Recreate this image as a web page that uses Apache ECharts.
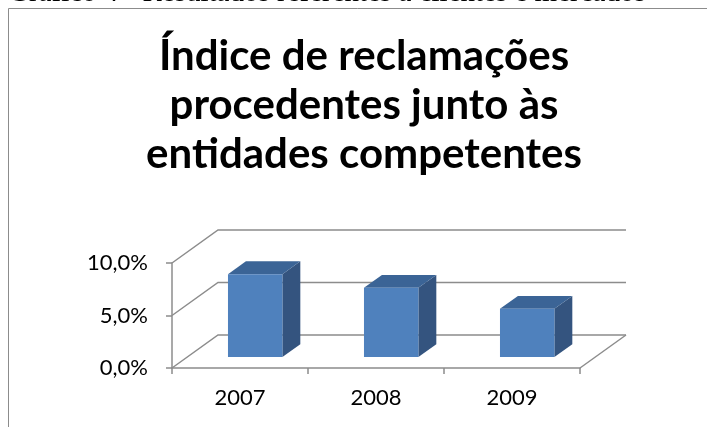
<!DOCTYPE html>
<html>
<head>
<meta charset="utf-8">
<script src="https://cdn.jsdelivr.net/npm/echarts@6/dist/echarts.min.js"></script>
<style>
html,body{margin:0;padding:0;background:#fff;}
#chart{width:707px;height:427px;}
</style>
</head>
<body>
<div id="chart"></div>
<script>
// ---- data ----
const categories = ['2007', '2008', '2009'];
const values = [7.9, 6.6, 4.6];
const yTicks = [0, 5, 10];
const titleText = 'Índice de reclamações\nprocedentes junto às\nentidades competentes';
const captionText = 'Gráfico 4 - Resultados referentes a clientes e mercados';

// ---- style constants ----
const DX = 46, DY = -33;          // 3D depth offset of the walls
const F1 = 0.33, F2 = 0.39;       // bar front position / bar depth (fractions of depth)
const GRID_COLOR = '#8c8c8c';
const FRONT = '#4f81bd', TOP = '#3b6496', SIDE = '#34547f';

const chart = echarts.init(document.getElementById('chart'));

function fmt(v) { return v.toFixed(1).replace('.', ',') + '%'; }

chart.setOption({
  animation: false,
  backgroundColor: '#fff',
  title: {
    text: titleText,
    left: 359,
    textAlign: 'center',
    top: 27,
    textStyle: { fontFamily: 'Lato', fontWeight: 'bold', fontSize: 42, lineHeight: 49, color: '#000' }
  },
  graphic: [
    { type: 'text', z: 9, x: 8, y: 8, style: { text: captionText, font: '29px "Liberation Serif"', fill: '#000', verticalAlign: 'bottom' } },
    { type: 'polyline', z: 10, shape: { points: [[8.5, 427], [8.5, 8.5], [707, 8.5]] }, style: { stroke: '#8c8c8c', lineWidth: 1, fill: null } }
  ],
  grid: { left: 172, top: 263, width: 408, height: 105 },
  xAxis: {
    type: 'category',
    data: categories,
    axisLine: { lineStyle: { color: GRID_COLOR, width: 1.5 } },
    axisTick: { show: true, length: 6, lineStyle: { color: GRID_COLOR, width: 1.5 } },
    axisLabel: { fontFamily: 'Lato', fontSize: 22, color: '#000', margin: 19 },
    splitLine: { show: false }
  },
  yAxis: {
    type: 'value',
    min: 0, max: 10, interval: 5,
    axisLine: { show: true, lineStyle: { color: GRID_COLOR, width: 1.5 } },
    axisTick: { show: true, length: 6, lineStyle: { color: GRID_COLOR, width: 1.5 } },
    axisLabel: { fontFamily: 'Lato', fontSize: 22, color: '#000', margin: 24, formatter: fmt },
    splitLine: { show: false }
  },
  series: [
    {
      type: 'custom',
      clip: false,
      silent: true,
      z: 1,
      data: yTicks.map(v => [0, v]),
      renderItem: function (params, api) {
        const cs = params.coordSys;
        const y = api.coord([0, api.value(1)])[1];
        const l = cs.x, r = cs.x + cs.width;
        const children = [{
          type: 'polyline',
          shape: { points: [[l, y], [l + DX, y + DY], [r + DX, y + DY]] },
          style: { stroke: GRID_COLOR, lineWidth: 1.5, fill: null }
        }];
        if (api.value(1) === 0) {
          children.push({
            type: 'line',
            shape: { x1: r, y1: y, x2: r + DX, y2: y + DY },
            style: { stroke: GRID_COLOR, lineWidth: 1.5 }
          });
        }
        return { type: 'group', children: children };
      }
    },
    {
      type: 'custom',
      clip: false,
      z: 2,
      data: values.map((v, i) => [i, v]),
      renderItem: function (params, api) {
        const p = api.coord([api.value(0), api.value(1)]);
        const y0 = api.coord([api.value(0), 0])[1];
        const bw = api.size([1, 0])[0] * 0.4;
        const ox = DX * F1, oy = DY * F1;
        const dx = DX * F2, dy = DY * F2;
        const x0 = p[0] - bw / 2 + ox, x1 = p[0] + bw / 2 + ox;
        const top = p[1] + oy, bot = y0 + oy;
        return {
          type: 'group',
          children: [
            { type: 'polygon', shape: { points: [[x1, top], [x1 + dx, top + dy], [x1 + dx, bot + dy], [x1, bot]] }, style: { fill: SIDE } },
            { type: 'polygon', shape: { points: [[x0, top], [x1, top], [x1 + dx, top + dy], [x0 + dx, top + dy]] }, style: { fill: TOP } },
            { type: 'rect', shape: { x: x0, y: top, width: bw, height: bot - top }, style: { fill: FRONT } }
          ]
        };
      }
    }
  ]
});
</script>
</body>
</html>
